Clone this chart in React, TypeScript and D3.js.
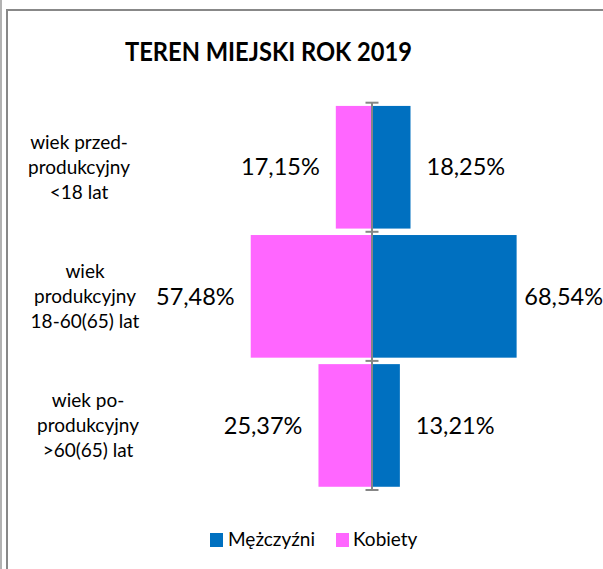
import * as d3 from "d3";

// categories top to bottom
const categories = ["przed", "prod", "po"];
const categoryLines = [
  ["wiek przed-", "produkcyjny", "<18 lat"],
  ["wiek", "produkcyjny", "18-60(65) lat"],
  ["wiek po-", "produkcyjny", ">60(65) lat"],
];
const women = [17.15, 57.48, 25.37];
const men = [18.25, 68.54, 13.21];
const seriesNames = ["Mężczyźni", "Kobiety"];
const title = "TEREN MIEJSKI ROK 2019";

const W = 603;
const H = 569;
const BLUE = "#0070C0";
const PINK = "#FF66FF";
const FONT = "Lato, 'Open Sans', sans-serif";

const fmt = (v: number) => v.toFixed(2).replace(".", ",") + "%";

export default function App() {
  const cx = 372;
  const x = d3.scaleLinear().domain([-80, 80]).range([cx - 168.8, cx + 168.8]);
  const y = d3
    .scaleBand<string>()
    .domain(categories)
    .range([102.7, 490])
    .paddingInner(0.05)
    .paddingOuter(0.025);
  const step = y.step();
  const bw = y.bandwidth();
  const boundaries = categories
    .map((c) => (y(c) ?? 0) - step * 0.025)
    .concat([490]);

  const gap = 16;
  const labelX = [79, 85, 88];

  return (
    <svg
      width={W}
      height={H}
      style={{ position: "absolute", left: 0, top: 0, background: "#fff" }}
      fontFamily={FONT}
    >
      {/* frame */}
      <line x1={1} x2={1} y1={0} y2={H} stroke="#999" strokeWidth={1.5} />
      <line x1={7} x2={7} y1={9.5} y2={H} stroke="#888" strokeWidth={2} />
      <line x1={6} x2={W} y1={10} y2={10} stroke="#888" strokeWidth={2} />

      <text
        x={268.5}
        y={61}
        textAnchor="middle"
        fontSize={27}
        fontWeight="bold"
        fill="#000"
        textLength={287}
        lengthAdjust="spacingAndGlyphs"
      >
        {title}
      </text>

      {/* bars */}
      {categories.map((c, i) => (
        <g key={c}>
          <rect
            x={x(-women[i])}
            y={y(c)}
            width={x(0) - x(-women[i])}
            height={bw}
            fill={PINK}
          />
          <rect
            x={x(0)}
            y={y(c)}
            width={x(men[i]) - x(0)}
            height={bw}
            fill={BLUE}
          />
        </g>
      ))}

      {/* axis */}
      <line x1={cx} x2={cx} y1={102.7} y2={490} stroke="#868686" strokeWidth={2} />
      {boundaries.map((b, i) => (
        <line
          key={i}
          x1={cx - 6.5}
          x2={cx + 6.5}
          y1={b}
          y2={b}
          stroke="#868686"
          strokeWidth={2}
        />
      ))}

      {/* value labels */}
      {categories.map((c, i) => {
        const yc = (y(c) ?? 0) + bw / 2;
        const mx = x(men[i]) + gap;
        const overflow = mx + 78 > W;
        return (
          <g key={c} fontSize={23.5} fill="#000">
            <text x={x(-women[i]) - gap} y={yc} dy="0.35em" textAnchor="end">
              {fmt(women[i])}
            </text>
            <text
              x={overflow ? W : mx}
              y={yc}
              dy="0.35em"
              textAnchor={overflow ? "end" : "start"}
            >
              {fmt(men[i])}
            </text>
          </g>
        );
      })}

      {/* category labels */}
      {categories.map((c, i) => {
        const yc = (y(c) ?? 0) + bw / 2;
        return (
          <text key={c} x={labelX[i]} y={yc} fontSize={19} textAnchor="middle">
            {categoryLines[i].map((l, j) => (
              <tspan key={j} x={labelX[i]} y={yc - 25 + j * 25} dy="0.35em">
                {l}
              </tspan>
            ))}
          </text>
        );
      })}

      {/* legend */}
      <g fontSize={19}>
        <rect x={210} y={533} width={13} height={14} fill={BLUE} />
        <text x={228} y={546}>
          {seriesNames[0]}
        </text>
        <rect x={336} y={533} width={13} height={14} fill={PINK} />
        <text x={353} y={546}>
          {seriesNames[1]}
        </text>
      </g>
    </svg>
  );
}
